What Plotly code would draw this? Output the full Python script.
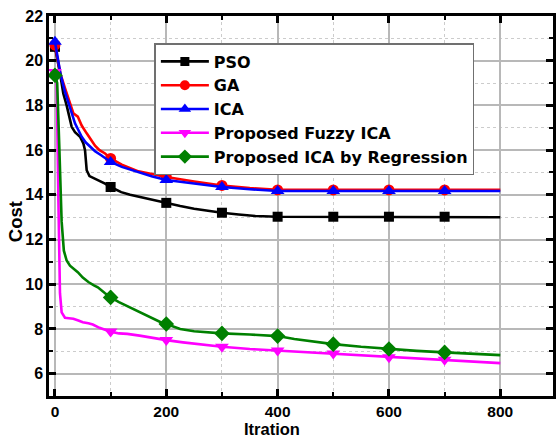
import plotly.graph_objects as go

# ---- data ----
pso_iter = [0, 5, 10, 15, 21, 30, 36, 45, 51, 54, 57, 62, 70, 77, 90, 100, 119, 135, 152, 175, 200, 225, 250, 275, 300, 330, 360, 400, 500, 600, 700, 800]
pso_cost = [20.62, 20.0, 19.3, 18.53, 18.0, 17.04, 16.8, 16.6, 16.3, 16.0, 15.1, 14.84, 14.75, 14.65, 14.5, 14.35, 14.12, 14.0, 13.9, 13.78, 13.64, 13.5, 13.38, 13.28, 13.2, 13.12, 13.05, 13.02, 13.02, 13.02, 13.02, 13.0]

ga_iter = [0, 5, 10, 18, 25, 33, 41, 48, 57, 65, 72, 80, 90, 100, 120, 150, 175, 200, 250, 300, 350, 400, 500, 600, 700, 800]
ga_cost = [20.7, 20.0, 19.4, 18.77, 18.2, 17.65, 17.5, 17.1, 16.75, 16.45, 16.2, 16.0, 15.85, 15.63, 15.35, 15.05, 14.92, 14.8, 14.6, 14.42, 14.3, 14.22, 14.22, 14.22, 14.22, 14.22]

ica_iter = [0, 5, 10, 18, 27, 36, 42, 48, 55, 63, 72, 83, 92, 100, 120, 150, 175, 200, 250, 300, 350, 400, 500, 600, 700, 800]
ica_cost = [20.85, 20.1, 19.4, 18.6, 17.9, 17.2, 16.9, 16.6, 16.35, 16.14, 15.95, 15.77, 15.6, 15.47, 15.25, 15.0, 14.82, 14.66, 14.5, 14.35, 14.25, 14.17, 14.17, 14.17, 14.17, 14.17]

fuzzy_iter = [0, 3, 6, 9, 12, 18, 25, 33, 42, 50, 60, 68, 80, 90, 100, 115, 130, 152, 175, 200, 230, 260, 300, 350, 400, 450, 500, 550, 600, 650, 700, 750, 800]
fuzzy_cost = [19.5, 19.3, 14.0, 9.6, 8.74, 8.5, 8.48, 8.46, 8.38, 8.3, 8.25, 8.2, 8.05, 7.95, 7.88, 7.8, 7.78, 7.7, 7.6, 7.5, 7.4, 7.3, 7.2, 7.1, 7.03, 6.96, 6.9, 6.8, 6.73, 6.68, 6.62, 6.55, 6.47]

reg_iter = [0, 4, 8, 12, 16, 21, 27, 34, 41, 50, 60, 70, 77, 90, 100, 115, 128, 140, 152, 165, 176, 190, 200, 225, 250, 300, 350, 400, 430, 470, 500, 550, 600, 650, 700, 750, 800]
reg_cost = [19.35, 19.0, 16.0, 12.8, 11.5, 11.06, 10.83, 10.7, 10.54, 10.3, 10.1, 9.95, 9.86, 9.6, 9.41, 9.2, 9.04, 8.9, 8.74, 8.6, 8.45, 8.3, 8.22, 8.0, 7.9, 7.8, 7.75, 7.68, 7.55, 7.42, 7.32, 7.2, 7.1, 7.02, 6.95, 6.9, 6.83]

marker_iters = [0, 100, 200, 300, 400, 500, 600, 700]

series_names = ["PSO", "GA", "ICA", "Proposed Fuzzy ICA", "Proposed ICA by Regression"]
series_colors = ["#000000", "#ff0000", "#0000ff", "#ff00ff", "#008000"]
series_symbols = ["square", "circle", "triangle-up", "triangle-down", "diamond"]
series_msize = [10, 11, 12, 12, 12]
series_data = [(pso_iter, pso_cost), (ga_iter, ga_cost), (ica_iter, ica_cost),
               (fuzzy_iter, fuzzy_cost), (reg_iter, reg_cost)]

x_ticks = [0, 200, 400, 600, 800]
y_ticks = [6, 8, 10, 12, 14, 16, 18, 20, 22]

FONT = "Liberation Sans, Arial, sans-serif"
LEG_FONT = "DejaVu Sans, sans-serif"

fig = go.Figure()
for name, color, sym, ms, (xs, ys) in zip(series_names, series_colors, series_symbols, series_msize, series_data):
    fig.add_trace(go.Scatter(x=xs, y=ys, mode="lines", line=dict(color=color, width=2.6),
                             showlegend=False, legendgroup=name, hoverinfo="skip"))
    mx = [x for x in xs if x in marker_iters]
    my = [y for x, y in zip(xs, ys) if x in marker_iters]
    fig.add_trace(go.Scatter(x=mx, y=my, mode="markers",
                             marker=dict(symbol=sym, color=color, size=ms, line=dict(width=0)),
                             showlegend=False, legendgroup=name))
    fig.add_trace(go.Scatter(x=[None], y=[None], mode="lines+markers", name=name,
                             line=dict(color=color, width=2.6),
                             marker=dict(symbol=sym, color=color, size=ms - 1, line=dict(width=0)),
                             legendgroup=name))

axis_common = dict(
    showline=True, linecolor="black", linewidth=2.5, mirror="ticks",
    ticks="inside", ticklen=7, tickwidth=2.5, tickcolor="black",
    showgrid=True, gridcolor="#b8b8b8", gridwidth=1.5,
    zeroline=False,
)

fig.update_layout(
    width=557, height=437,
    margin=dict(l=49, r=1, t=16, b=41),
    paper_bgcolor="white", plot_bgcolor="white",
    xaxis=dict(range=[-10.7, 894.7], tickvals=x_ticks,
               tickfont=dict(family=FONT, size=15.5, color="black", weight="bold"),
               minor=dict(dtick=100, tick0=0, ticks="inside", ticklen=4, tickwidth=2, tickcolor="black",
                          showgrid=True, gridcolor="#cccccc", gridwidth=1, griddash="dot"),
               **axis_common),
    yaxis=dict(range=[5, 22], tickvals=y_ticks,
               tickfont=dict(family=FONT, size=16, color="black", weight="bold"),
               minor=dict(dtick=1, tick0=0, ticks="inside", ticklen=4, tickwidth=2, tickcolor="black",
                          showgrid=True, gridcolor="#cccccc", gridwidth=1, griddash="dot"),
               **axis_common),
    legend=dict(x=(155 - 49) / 507, y=(396 - 43) / 380, xanchor="left", yanchor="top",
                bgcolor="white", bordercolor="#707070", borderwidth=1.5,
                font=dict(family=LEG_FONT, size=16, color="black", weight="bold"),
                tracegroupgap=0, itemwidth=48),
    showlegend=True,
)

fig.add_annotation(text="Itration", xref="paper", yref="paper",
                   x=(273 - 49) / 507, y=(396 - 429) / 380, xanchor="center", yanchor="middle",
                   showarrow=False, font=dict(family=FONT, size=16.5, color="black", weight="bold"))
fig.add_annotation(text="Cost", xref="paper", yref="paper", textangle=-90,
                   x=(15 - 49) / 507, y=(396 - 222) / 380, xanchor="center", yanchor="middle",
                   showarrow=False, font=dict(family=FONT, size=18.5, color="black", weight="bold"))

fig.write_html("out.html")
